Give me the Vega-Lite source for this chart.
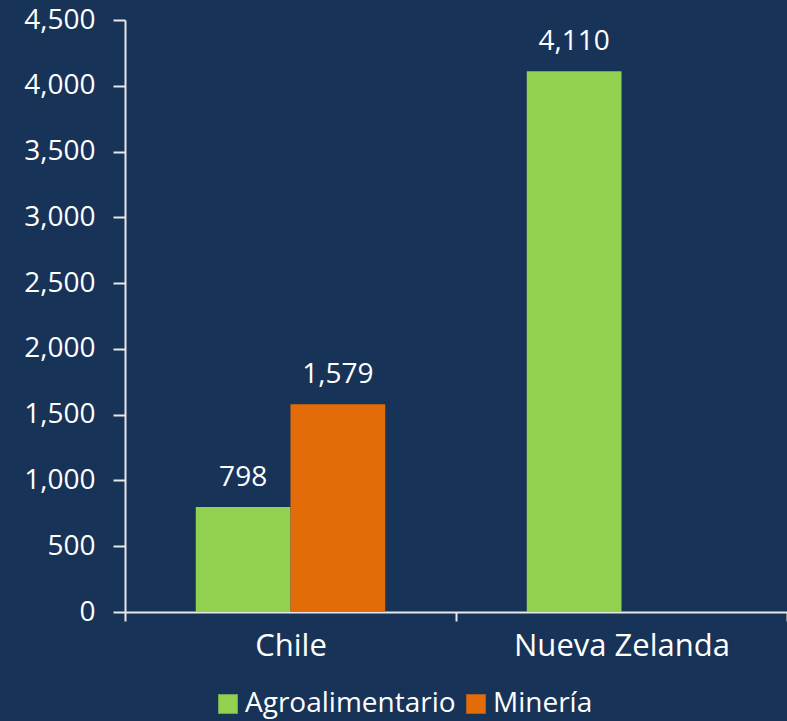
{
  "$schema": "https://vega.github.io/schema/vega-lite/v6.json",
  "autosize": "none",
  "width": 662,
  "height": 592,
  "padding": {"left": 125, "top": 20, "right": 0, "bottom": 109},
  "background": "#183358",
  "config": {
    "view": {"stroke": null},
    "font": "Open Sans"
  },
  "data": {
    "values": [
      {"pais": "Chile", "sector": "Agroalimentario", "valor": 798},
      {"pais": "Chile", "sector": "Minería", "valor": 1579},
      {"pais": "Nueva Zelanda", "sector": "Agroalimentario", "valor": 4110}
    ]
  },
  "encoding": {
    "x": {
      "field": "pais", "type": "nominal",
      "scale": {"paddingInner": 0, "paddingOuter": 0},
      "axis": {
        "title": null, "labelAngle": 0, "labelColor": "#ffffff", "labelFontSize": 31,
        "labelLimit": 400, "labelDx": -8,
        "labelPadding": 10, "tickBand": "extent", "tickColor": "#e8e8e8", "tickSize": 9,
        "tickWidth": 2, "domainColor": "#e8e8e8", "domainWidth": 2
      }
    },
    "xOffset": {
      "field": "sector", "type": "nominal",
      "scale": {"domain": ["Agroalimentario", "Minería"], "paddingInner": 0, "paddingOuter": 0.747}
    },
    "y": {
      "field": "valor", "type": "quantitative",
      "scale": {"domain": [0, 4500], "nice": false},
      "axis": {
        "title": null, "values": [0, 500, 1000, 1500, 2000, 2500, 3000, 3500, 4000, 4500],
        "format": ",.0f", "grid": false, "labelColor": "#ffffff", "labelFontSize": 28,
        "labelPadding": 18, "tickColor": "#e8e8e8", "tickSize": 12, "tickWidth": 2,
        "domainColor": "#e8e8e8", "domainWidth": 2
      }
    }
  },
  "layer": [
    {
      "mark": {"type": "bar"},
      "encoding": {
        "color": {
          "field": "sector", "type": "nominal",
          "scale": {"domain": ["Agroalimentario", "Minería"], "range": ["#92d050", "#e36c09"]},
          "legend": {
            "title": null, "orient": "none", "direction": "horizontal",
            "legendX": 89, "legendY": 670, "labelColor": "#ffffff", "labelFontSize": 28,
            "labelLimit": 400,
            "symbolType": "square", "symbolSize": 380, "symbolStrokeWidth": 0,
            "columnPadding": 6, "labelOffset": 3
          }
        }
      }
    },
    {
      "mark": {"type": "text", "baseline": "bottom", "dy": -15, "color": "#ffffff", "fontSize": 28},
      "encoding": {
        "text": {"field": "valor", "type": "quantitative", "format": ",.0f"}
      }
    }
  ]
}
